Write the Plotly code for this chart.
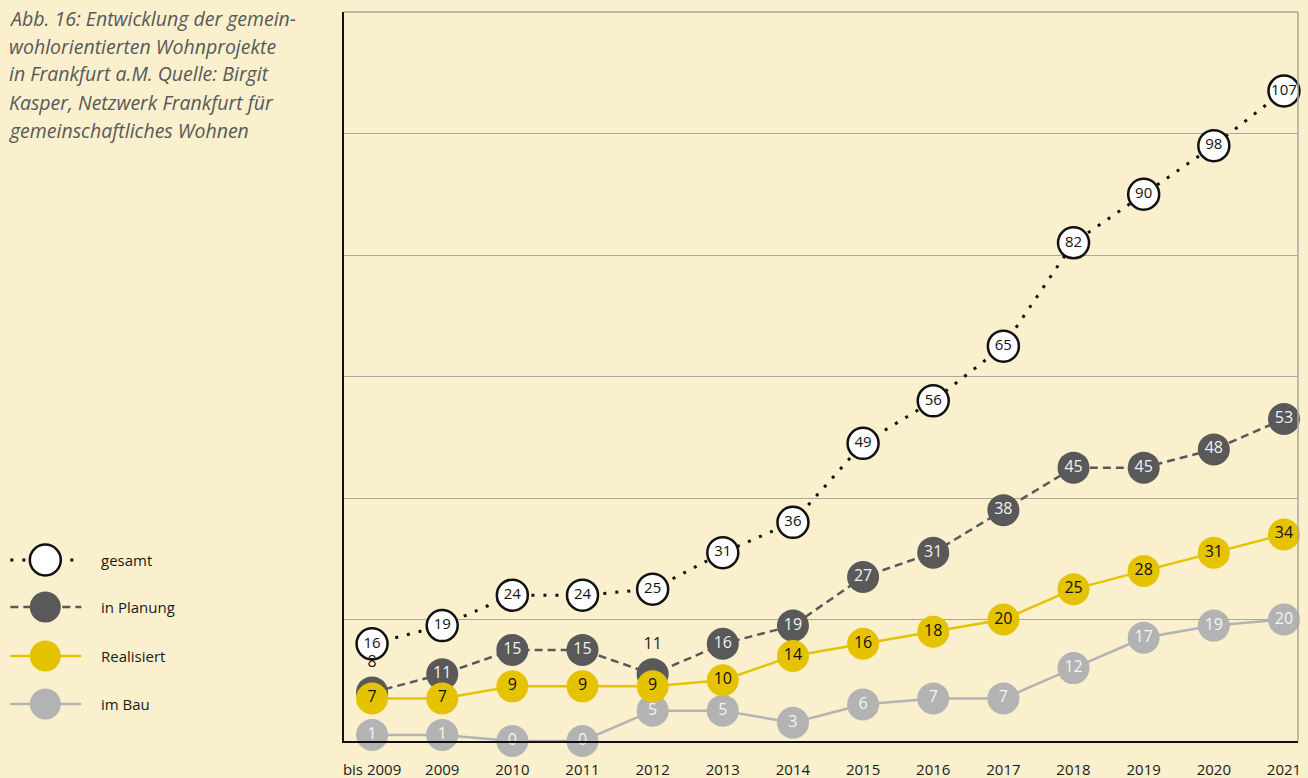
import plotly.graph_objects as go

categories = ["bis 2009", "2009", "2010", "2011", "2012", "2013", "2014",
              "2015", "2016", "2017", "2018", "2019", "2020", "2021"]
gesamt = [16, 19, 24, 24, 25, 31, 36, 49, 56, 65, 82, 90, 98, 107]
in_planung = [8, 11, 15, 15, 11, 16, 19, 27, 31, 38, 45, 45, 48, 53]
realisiert = [7, 7, 9, 9, 9, 10, 14, 16, 18, 20, 25, 28, 31, 34]
im_bau = [1, 1, 0, 0, 5, 5, 3, 6, 7, 7, 12, 17, 19, 20]

title_lines = ["Abb. 16: Entwicklung der gemein-",
               "wohlorientierten Wohnprojekte",
               "in Frankfurt a.M. Quelle: Birgit",
               "Kasper, Netzwerk Frankfurt für",
               "gemeinschaftliches Wohnen"]

BG = "#FAF0CE"
DARK = "#595959"
YEL = "#E6C300"
GRAY = "#B3B3B3"
FONT = "Open Sans"

# compensation for the capture scaling observed
SX = 1311 / 1308
SY = 789 / 778
W, H = 1311, 789
X0, X1, Y0, Y1 = 343 * SX, 1298 * SX, 12 * SY, 741 * SY


def px(x):
    return (x * SX - X0) / (X1 - X0)


def py(y):
    return (Y1 - y * SY) / (Y1 - Y0)


fig = go.Figure()

fig.add_trace(go.Scatter(
    x=categories, y=gesamt, mode="lines+markers+text", name="gesamt",
    line=dict(color="#111111", width=3, dash="3px,9px"),
    marker=dict(size=31, color="white", line=dict(color="#111111", width=2.5)),
    text=[str(v) for v in gesamt], textposition="middle center",
    textfont=dict(color="#111111", size=15, family=FONT),
    cliponaxis=False))

plan_pos = ["middle center"] * len(in_planung)
plan_col = ["#F2F2F2"] * len(in_planung)
for i in (0, 4):
    plan_pos[i] = "top center"
    plan_col[i] = "#1a1a1a"

fig.add_trace(go.Scatter(
    x=categories, y=in_planung, mode="lines+markers+text", name="in Planung",
    line=dict(color=DARK, width=2.5, dash="8px,5px"),
    marker=dict(size=32, color=DARK),
    text=[str(v) for v in in_planung], textposition=plan_pos,
    textfont=dict(color=plan_col, size=16, family=FONT),
    cliponaxis=False))

fig.add_trace(go.Scatter(
    x=categories, y=im_bau, mode="lines+markers+text", name="im Bau",
    line=dict(color=GRAY, width=2.5),
    marker=dict(size=32, color=GRAY),
    text=[str(v) for v in im_bau], textposition="middle center",
    textfont=dict(color="#F5F5F5", size=16, family=FONT),
    cliponaxis=False))

fig.add_trace(go.Scatter(
    x=categories, y=realisiert, mode="lines+markers+text", name="Realisiert",
    line=dict(color=YEL, width=2.5),
    marker=dict(size=32, color=YEL),
    text=[str(v) for v in realisiert], textposition="middle center",
    textfont=dict(color="#111111", size=16, family=FONT),
    cliponaxis=False))

shapes = [
    dict(type="line", xref="paper", yref="paper", x0=0, x1=1, y0=1, y1=1,
         line=dict(color="#A8A8A0", width=1.5)),
    dict(type="line", xref="paper", yref="paper", x0=1, x1=1, y0=0, y1=1,
         line=dict(color="#A8A8A0", width=1.5)),
]

annotations = []
for k, line in enumerate(title_lines):
    annotations.append(dict(
        xref="paper", yref="paper", x=px(6), y=py(18 + 28 * k),
        xanchor="left", yanchor="middle", showarrow=False, text=line,
        font=dict(family=FONT, size=19.5, color="#585858", style="italic")))

legend_items = [
    ("gesamt", 560, "#111111", "3px,9px", "white", "#111111"),
    ("in Planung", 607, DARK, "8px,5px", DARK, DARK),
    ("Realisiert", 656, YEL, "solid", YEL, YEL),
    ("im Bau", 704, GRAY, "solid", GRAY, GRAY),
]
for name, yy, lc, dash, fill, border in legend_items:
    shapes.append(dict(type="line", xref="paper", yref="paper",
                       x0=px(9), x1=px(80), y0=py(yy), y1=py(yy),
                       line=dict(color=lc, width=3 if dash.startswith("3") else 2.5, dash=dash)))
    bw = 2.5 if fill == "white" else 0
    shapes.append(dict(type="circle", xref="paper", yref="paper",
                       xsizemode="pixel", ysizemode="pixel",
                       xanchor=px(44), yanchor=py(yy),
                       x0=-15.5, x1=15.5, y0=-15.5, y1=15.5,
                       fillcolor=fill, line=dict(color=border, width=bw)))
    annotations.append(dict(xref="paper", yref="paper", x=px(98), y=py(yy),
                            xanchor="left", yanchor="middle", showarrow=False,
                            text=name, font=dict(family=FONT, size=15, color="#1a1a1a")))

fig.update_layout(
    width=W, height=H,
    margin=dict(l=X0, r=W - X1, t=Y0, b=H - Y1),
    paper_bgcolor=BG, plot_bgcolor=BG,
    showlegend=False,
    shapes=shapes, annotations=annotations,
    font=dict(family=FONT),
)
fig.update_xaxes(
    type="category", range=[-0.4, 13.2], showgrid=False, zeroline=False,
    showline=True, linecolor="#111111", linewidth=2,
    ticks="", ticklabelstandoff=14,
    tickfont=dict(family=FONT, size=15, color="#1a1a1a"))
fig.update_yaxes(
    range=[0, 120], dtick=20, showgrid=True, gridcolor="#A8A8A0", gridwidth=1,
    zeroline=False, showline=True, linecolor="#111111", linewidth=2,
    showticklabels=False, ticks="")

post = (
    "document.documentElement.style.margin='0';"
    "document.body.style.margin='0';"
    "document.body.style.background='%s';"
) % BG

fig.write_html("out.html", config={"displayModeBar": False}, post_script=post)
